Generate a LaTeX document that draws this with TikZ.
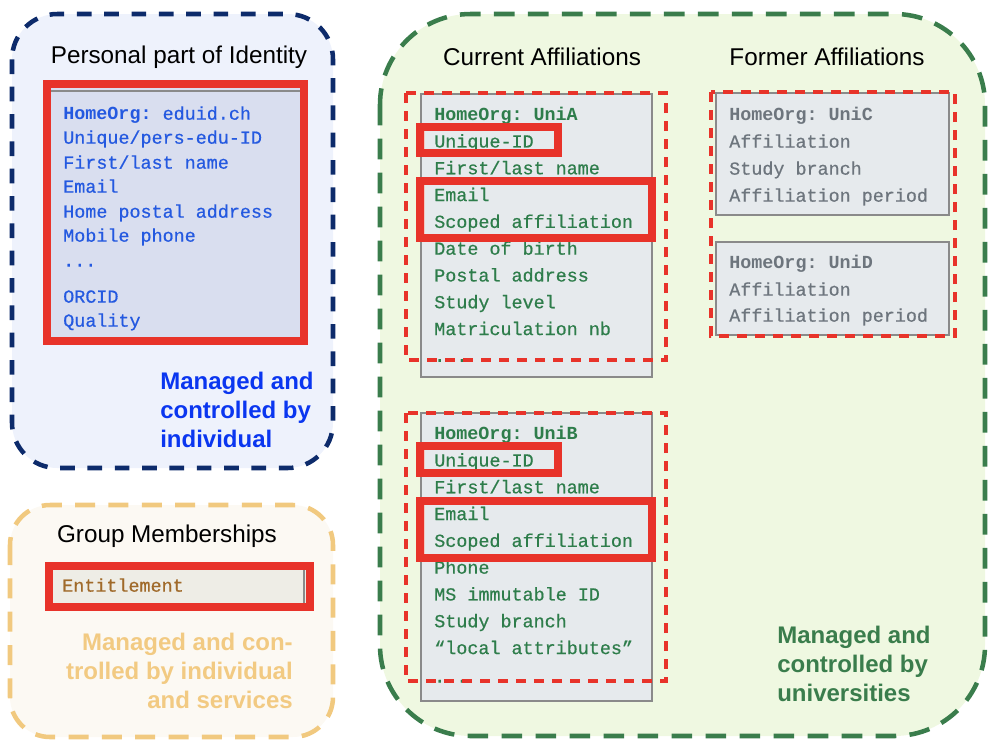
\documentclass[tikz,border=0pt]{standalone}
\usepackage{fontspec}
\setmainfont{Liberation Sans}
\newfontfamily\monof[UprightFeatures={FakeBold=0.6}]{Liberation Mono}
\definecolor{bluefill}{HTML}{EEF2FC}
\definecolor{bluestroke}{HTML}{0D2B6B}
\definecolor{lavbox}{HTML}{D9DEEF}
\definecolor{pblue}{HTML}{2459E0}
\definecolor{lblue}{HTML}{0A36F0}
\definecolor{redc}{HTML}{E8332A}
\definecolor{orfill}{HTML}{FCF9F3}
\definecolor{orstroke}{HTML}{F1C97F}
\definecolor{orlabel}{HTML}{F2CA82}
\definecolor{beige}{HTML}{EEEDE6}
\definecolor{brown}{HTML}{A06A2A}
\definecolor{grfill}{HTML}{EFF8E1}
\definecolor{grstroke}{HTML}{3A7D4C}
\definecolor{grtext}{HTML}{2E7D4B}
\definecolor{graybox}{HTML}{E6EAED}
\definecolor{grayline}{HTML}{8A8A8A}
\definecolor{graytext}{HTML}{6D757D}
\definecolor{pinkline}{HTML}{F2C9C2}
\begin{document}
\begin{tikzpicture}[x=0.75pt,y=-0.75pt,
  title/.style={font=\fontsize{18.2}{21}\selectfont, inner sep=0pt, text=black},
  mono/.style={font=\monof\fontsize{13.8}{16}\selectfont\frenchspacing, inner sep=0pt, anchor=west, text height=10.4pt, text depth=3.4pt, yshift=-1.5pt},
  blabel/.style={font=\bfseries\fontsize{18}{21.75}\selectfont, inner sep=0pt},
  outerbox/.style={line width=3.4pt},
  redsolid/.style={draw=redc, line width=6pt},
  reddash/.style={draw=redc, line width=2.3pt, dash pattern=on 7.5pt off 6pt},
  grbox/.style={fill=graybox, draw=grayline, line width=1pt},
  pinkin/.style={draw=pinkline, line width=0.8pt}
]
\useasboundingbox (0,0) rectangle (1000,747);

% ---------- Personal part of Identity ----------
\draw[outerbox, fill=bluefill, draw=bluestroke, dash pattern=on 11pt off 9.5pt, rounded corners=34pt] (12,14) rectangle (333,468);
\node[title] (ptitle) at (179,57) {Personal part of Identity};
\fill[lavbox] (51,88) rectangle (300,337);
\draw[grayline, line width=1pt] (51,91) -- (300,91);
\node[mono, text=pblue] (pp1) at (63,113) {{\bfseries HomeOrg:} eduid.ch};
\node[mono, text=pblue] (pp2) at (63,137) {Unique/pers-edu-ID};
\node[mono, text=pblue] (pp3) at (63,162) {First/last name};
\node[mono, text=pblue] (pp4) at (63,186) {Email};
\node[mono, text=pblue] (pp5) at (63,211) {Home postal address};
\node[mono, text=pblue] (pp6) at (63,235) {Mobile phone};
\node[mono, text=pblue] (pp7) at (63,260) {...};
\node[mono, text=pblue] (pp8) at (63,296) {ORCID};
\node[mono, text=pblue] (pp9) at (63,320) {Quality};
\draw[redsolid] (47,84) rectangle (304,341);
\node[blabel, text=lblue, align=left, anchor=north west] (plabel) at (160,372) {Managed and\\controlled by\\individual};

% ---------- Group Memberships ----------
\draw[outerbox, fill=orfill, draw=orstroke, dash pattern=on 15pt off 10pt, rounded corners=30pt] (10,505) rectangle (333,737);
\node[title] (gtitle) at (167,536) {Group Memberships};
\fill[beige] (53,570) rectangle (306,603);
\draw[grayline, line width=1pt] (304,570) -- (304,603);
\node[mono, text=brown] (ent) at (62,585) {Entitlement};
\draw[redsolid] (49,566) rectangle (310,607);
\node[blabel, text=orlabel, align=right, anchor=north east] (glabel) at (293,633) {Managed and con-\\trolled by individual\\and services};

% ---------- Affiliations ----------
\draw[outerbox, fill=grfill, draw=grstroke, dash pattern=on 15.5pt off 10pt, rounded corners=68pt] (380,14) rectangle (985,736);
\node[title] (ctitle) at (542,57) {Current Affiliations};
\node[title] (ftitle) at (827,57) {Former Affiliations};

% UniA
\draw[grbox] (421,94) rectangle (652,377);
\node[mono, text=grtext] (ua1) at (434,114.0) {\bfseries HomeOrg: UniA};
\node[mono, text=grtext] (ua2) at (434,140.8) {Unique-ID};
\node[mono, text=grtext] (ua3) at (434,167.6) {First/last name};
\node[mono, text=grtext] (ua4) at (434,194.4) {Email};
\node[mono, text=grtext] (ua5) at (434,221.2) {Scoped affiliation};
\node[mono, text=grtext] (ua6) at (434,248.0) {Date of birth};
\node[mono, text=grtext] (ua7) at (434,274.8) {Postal address};
\node[mono, text=grtext] (ua8) at (434,301.6) {Study level};
\node[mono, text=grtext] (ua9) at (434,328.4) {Matriculation nb};
\node[mono, text=grtext] (ua10) at (434,355.2) {...};
\draw[pinkin] (424.5,130.5) rectangle (554.5,149.5);
\draw[pinkin] (424.5,184.5) rectangle (648.5,234.5);
\draw[redsolid] (420,127) rectangle (558,153);
\draw[redsolid] (420,181) rectangle (652,238);
\draw[reddash] (406,93) rectangle (666,360);

% UniB
\draw[grbox] (421,413) rectangle (652,701);
\node[mono, text=grtext] (ub1) at (434,433.0) {\bfseries HomeOrg: UniB};
\node[mono, text=grtext] (ub2) at (434,459.8) {Unique-ID};
\node[mono, text=grtext] (ub3) at (434,486.6) {First/last name};
\node[mono, text=grtext] (ub4) at (434,513.4) {Email};
\node[mono, text=grtext] (ub5) at (434,540.2) {Scoped affiliation};
\node[mono, text=grtext] (ub6) at (434,567.0) {Phone};
\node[mono, text=grtext] (ub7) at (434,593.8) {MS immutable ID};
\node[mono, text=grtext] (ub8) at (434,620.6) {Study branch};
\node[mono, text=grtext] (ub9) at (434,647.4) {“local attributes”};
\node[mono, text=grtext] (ub10) at (434,676.0) {...};
\draw[pinkin] (424.5,449.5) rectangle (554.5,469.5);
\draw[pinkin] (424.5,504.5) rectangle (648.5,554.5);
\draw[redsolid] (420,446) rectangle (558,473);
\draw[redsolid] (420,501) rectangle (652,558);
\draw[reddash] (406,413) rectangle (666,681);

% Former: UniC, UniD
\draw[grbox] (716,93) rectangle (949,215);
\node[mono, text=graytext] (uc1) at (729,114) {\bfseries HomeOrg: UniC};
\node[mono, text=graytext] (uc2) at (729,141) {Affiliation};
\node[mono, text=graytext] (uc3) at (729,168) {Study branch};
\node[mono, text=graytext] (uc4) at (729,195) {Affiliation period};
\draw[grbox] (716,242) rectangle (949,335);
\node[mono, text=graytext] (ud1) at (729,262) {\bfseries HomeOrg: UniD};
\node[mono, text=graytext] (ud2) at (729,289) {Affiliation};
\node[mono, text=graytext] (ud3) at (729,315) {Affiliation period};
\draw[reddash] (711,92) rectangle (955,336);

\node[blabel, text=grstroke, align=left, anchor=north west] (ulabel) at (777,626) {Managed and\\controlled by\\universities};
\end{tikzpicture}
\end{document}
